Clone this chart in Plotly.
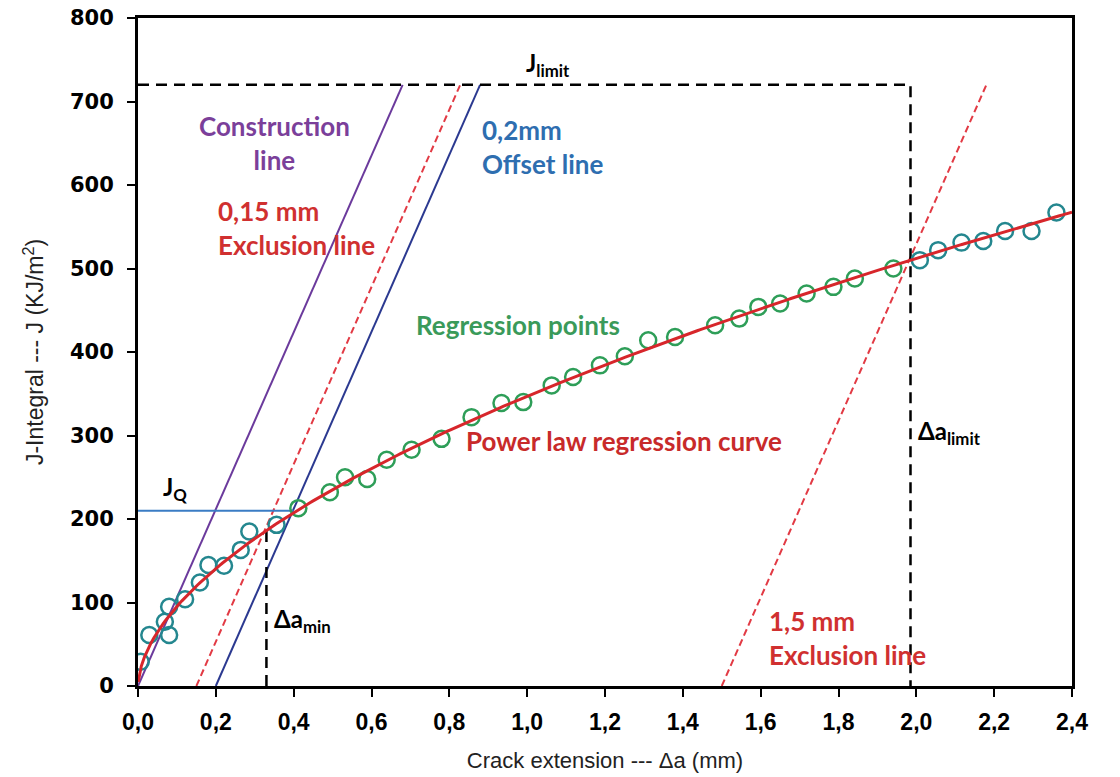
import numpy as np
import plotly.graph_objects as go

# ---- data ----
early_x = [0.007, 0.029, 0.069, 0.080, 0.080, 0.121, 0.159, 0.181, 0.221, 0.264, 0.286, 0.356]
early_y = [29, 61, 77, 61, 95, 104, 124, 145, 144, 163, 185, 193]

reg_x = [0.412, 0.493, 0.532, 0.589, 0.639, 0.703, 0.780, 0.857, 0.934, 0.990, 1.063, 1.118,
         1.187, 1.251, 1.311, 1.380, 1.483, 1.545, 1.594, 1.650, 1.718, 1.787, 1.842, 1.941]
reg_y = [213, 232, 250, 248, 271, 283, 296, 322, 339, 340, 360, 370,
         384, 395, 414, 418, 432, 440, 454, 458, 470, 478, 488, 500]

late_x = [2.009, 2.056, 2.116, 2.172, 2.228, 2.296, 2.360]
late_y = [510, 522, 531, 533, 545, 545, 567]

construction_x = [0.0, 0.680]
construction_y = [0, 720]
excl015_x = [0.15, 0.828]
excl015_y = [0, 720]
offset02_x = [0.20, 0.879]
offset02_y = [0, 720]
excl15_x = [1.50, 2.180]
excl15_y = [0, 720]

j_limit = 720
da_limit = 1.985
j_q = 210
j_q_x_end = 0.40
da_min = 0.33

x_tickvals = [0, 0.2, 0.4, 0.6, 0.8, 1.0, 1.2, 1.4, 1.6, 1.8, 2.0, 2.2, 2.4]
x_ticktext = ["0,0", "0,2", "0,4", "0,6", "0,8", "1,0", "1,2", "1,4", "1,6", "1,8", "2,0", "2,2", "2,4"]
y_tickvals = [0, 100, 200, 300, 400, 500, 600, 700, 800]

# ---- power-law regression J = C * da^n fitted on the regression points ----
n_exp, lnC = np.polyfit(np.log(reg_x), np.log(reg_y), 1)
C = np.exp(lnC)
curve_x = np.linspace(0.0005, 2.4, 300)
curve_y = C * curve_x ** n_exp
da_min_j = C * da_min ** n_exp

RED = "#D7262B"
TEAL = "#24878F"
GREEN = "#2E9E58"
PURPLE = "#6B3A9C"
NAVY = "#2B3990"
BLUE = "#3A7CC4"
DASHRED = "#E23A44"

fig = go.Figure()

fig.add_trace(go.Scatter(x=construction_x, y=construction_y, mode="lines",
                         line=dict(color=PURPLE, width=2)))
fig.add_trace(go.Scatter(x=offset02_x, y=offset02_y, mode="lines",
                         line=dict(color=NAVY, width=2)))
fig.add_trace(go.Scatter(x=excl015_x, y=excl015_y, mode="lines",
                         line=dict(color=DASHRED, width=2, dash="7px,4px")))
fig.add_trace(go.Scatter(x=excl15_x, y=excl15_y, mode="lines",
                         line=dict(color=DASHRED, width=2, dash="7px,4px")))

fig.add_trace(go.Scatter(x=[0, da_limit, da_limit], y=[j_limit, j_limit, 0], mode="lines",
                         line=dict(color="black", width=2.5, dash="11px,7px")))
fig.add_trace(go.Scatter(x=[da_min, da_min], y=[0, da_min_j], mode="lines",
                         line=dict(color="black", width=2.5, dash="11px,7px")))
fig.add_trace(go.Scatter(x=[0, j_q_x_end], y=[j_q, j_q], mode="lines",
                         line=dict(color=BLUE, width=2)))

fig.add_trace(go.Scatter(x=early_x, y=early_y, mode="markers",
                         marker=dict(symbol="circle-open", size=16, color=TEAL, line=dict(width=2.5, color=TEAL))))
fig.add_trace(go.Scatter(x=late_x, y=late_y, mode="markers",
                         marker=dict(symbol="circle-open", size=16, color=TEAL, line=dict(width=2.5, color=TEAL))))
fig.add_trace(go.Scatter(x=reg_x, y=reg_y, mode="markers",
                         marker=dict(symbol="circle-open", size=16, color=GREEN, line=dict(width=2.5, color=GREEN))))

fig.add_trace(go.Scatter(x=curve_x, y=curve_y, mode="lines",
                         line=dict(color=RED, width=3)))

AF = "Lato"
def ann(x, y, text, color, size=26, align="center", xanchor="center"):
    fig.add_annotation(x=x, y=y, text=text, showarrow=False, xref="x", yref="y",
                       font=dict(family=AF, size=size, color=color, weight="bold"),
                       align=align, xanchor=xanchor, yanchor="middle")

ann(0.352, 650, "Construction<br>line", "#7B3F9A")
ann(0.200, 548, "0,15 mm<br>Exclusion line", "#D03030", align="left", xanchor="left")
ann(0.880, 646, "0,2mm<br>Offset line", "#2E6EB0", align="left", xanchor="left")
ann(0.976, 432, "Regression points", "#3A9A5A")
ann(1.25, 294, "Power law regression curve", "#C82A2A")
ann(1.615, 58, "1,5 mm<br>Exclusion line", "#D03030", align="left", xanchor="left")
ann(1.053, 744, "J<sub>limit</sub>", "black", size=24)
ann(2.00, 304, "Δa<sub>limit</sub>", "black", size=24, align="left", xanchor="left")
ann(0.345, 79, "Δa<sub>min</sub>", "black", size=24, align="left", xanchor="left")
ann(0.095, 236, "J<sub>Q</sub>", "black", size=24)

fig.update_layout(
    width=1120, height=777,
    margin=dict(l=138, r=48, t=18, b=91),
    paper_bgcolor="white", plot_bgcolor="white",
    showlegend=False,
)
fig.update_xaxes(range=[0, 2.4], tickvals=x_tickvals, ticktext=x_ticktext, automargin=False,
                 showgrid=False, zeroline=False, showline=True, linecolor="black", linewidth=3,
                 mirror=True, ticks="outside", ticklen=8, tickwidth=2, tickcolor="black",
                 ticklabelstandoff=5,
                 tickfont=dict(family="Liberation Sans", size=23, color="black", weight="bold"),
                 title=dict(text="Crack extension --- Δa (mm)", standoff=20,
                            font=dict(family="Liberation Sans", size=22, color="#222")))
fig.update_yaxes(range=[0, 800], tickvals=y_tickvals, automargin=False,
                 showgrid=False, zeroline=False, showline=True, linecolor="black", linewidth=3,
                 mirror=True, ticks="outside", ticklen=8, tickwidth=2, tickcolor="black",
                 ticklabelstandoff=9,
                 tickfont=dict(family="DejaVu Sans", size=21, color="black", weight="bold"),
                 title=dict(text="J-Integral --- J (KJ/m<sup>2</sup>)", standoff=20,
                            font=dict(family="Liberation Sans", size=23, color="#222")))

fig.write_html("out.html", post_script="document.body.style.margin='0px';",
               config={"displayModeBar": False})
